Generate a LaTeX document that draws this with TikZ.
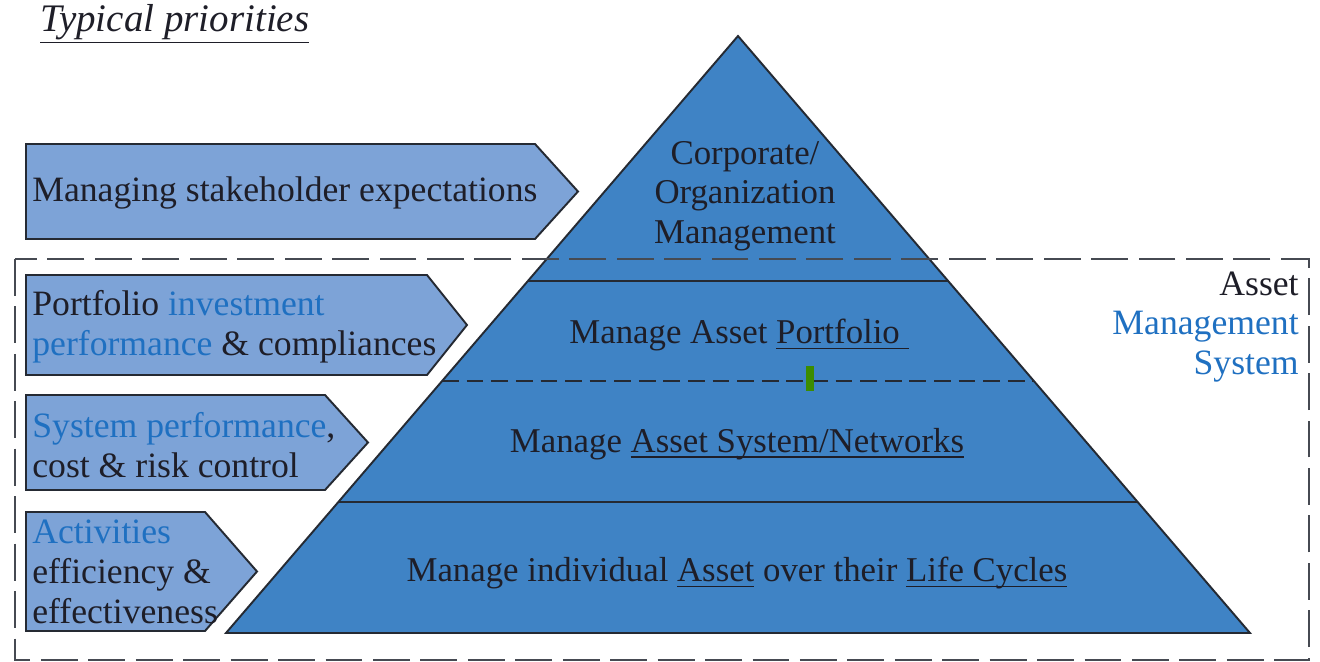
\documentclass[tikz,border=0pt]{standalone}
\usepackage{fontspec}
\setmainfont{Liberation Serif}
\usetikzlibrary{calc}
\definecolor{pyrfill}{HTML}{3F83C5}
\definecolor{arrfill}{HTML}{7DA3D7}
\definecolor{bluetext}{HTML}{1F70C1}
\definecolor{darkline}{HTML}{252a33}
\definecolor{textcol}{HTML}{1E1E28}
\definecolor{markgreen}{HTML}{3C8C00}
\newcommand{\myul}[2][3.2pt]{\leavevmode\setbox0\hbox{#2}\rlap{\rule[-#1]{\wd0}{0.85pt}}\box0\relax}
\tikzset{
  txt/.style={inner sep=0pt, text=textcol, font=\fontsize{20.3}{22.7}\selectfont},
  pyrtxt/.style={txt, font=\fontsize{19.8}{22.5}\selectfont},
  arrowbox/.style={fill=arrfill, draw=darkline, line width=1.1pt, line join=miter},
  tierline/.style={draw=darkline, line width=1.1pt},
  tierdash/.style={draw=darkline, line width=1pt, dash pattern=on 9.5pt off 4.5pt},
  amsbox/.style={draw=darkline!85, line width=1.1pt, dash pattern=on 21pt off 6pt},
}
\begin{document}
\begin{tikzpicture}[x=0.02cm, y=-0.02cm]
\useasboundingbox (0,0) rectangle (1320,662);

% title
\node[txt, anchor=west, font=\fontsize{22.2}{24}\selectfont] (title) at (40,24) {\myul[6.5pt]{\textit{Typical priorities}}};

% pyramid
\coordinate (apex) at (738,36);
\coordinate (bl) at (226,633);
\coordinate (br) at (1250,633);
\fill[pyrfill] (apex) -- (bl) -- (br) -- cycle;
\coordinate (l1) at ($(apex)!0.4104!(bl)$);
\coordinate (r1) at ($(apex)!0.4104!(br)$);
\coordinate (l2) at ($(apex)!0.5779!(bl)$);
\coordinate (r2) at ($(apex)!0.5779!(br)$);
\coordinate (l3) at ($(apex)!0.7806!(bl)$);
\coordinate (r3) at ($(apex)!0.7806!(br)$);
\draw[tierline] (l1) -- (r1);
\draw[tierdash] (l2) -- (r2);
\draw[tierline] (l3) -- (r3);
\draw[draw=darkline, line width=1.1pt, line join=miter] (apex) -- (bl) -- (br) -- cycle;

\node[pyrtxt, align=center] (corp) at (745,196) {Corporate/\\Organization\\Management};
\node[pyrtxt] (port) at (739,335) {Manage Asset \myul{Portfolio\ }};
\node[pyrtxt] (sys) at (737,444) {Manage \myul{Asset System/Networks}};
\node[pyrtxt] (ind) at (737,573) {Manage individual \myul{Asset} over their \myul{Life Cycles}};

% left arrows
\draw[arrowbox] (26,144) -- (535,144) -- (578,191.5) -- (535,239) -- (26,239) -- cycle;
\draw[arrowbox] (26,275) -- (427,275) -- (467,325) -- (427,375) -- (26,375) -- cycle;
\draw[arrowbox] (26,395) -- (325,395) -- (368,442.5) -- (325,490) -- (26,490) -- cycle;
\draw[arrowbox] (26,512) -- (205,512) -- (257,571.5) -- (205,631) -- (26,631) -- cycle;

\node[txt, anchor=west] (a1) at (32,193) {Managing stakeholder expectations};
\node[txt, anchor=west, align=left] (a2) at (32,327) {Portfolio \textcolor{bluetext}{investment}\\\textcolor{bluetext}{performance} \& compliances};
\node[txt, anchor=west, align=left] (a3) at (32,445) {\textcolor{bluetext}{System performance},\\cost \& risk control};
\node[txt, anchor=west, align=left] (a4) at (32,572) {\textcolor{bluetext}{Activities}\\efficiency \&\\effectiveness};

% asset management system box
\draw[amsbox] (15,259) rectangle (1309,660);
\node[txt, anchor=east, align=right] (ams) at (1299,327) {Asset\\\textcolor{bluetext}{Management}\\\textcolor{bluetext}{System}};

% green mark
\fill[markgreen] (806,366) rectangle (814,391);
\end{tikzpicture}
\end{document}
